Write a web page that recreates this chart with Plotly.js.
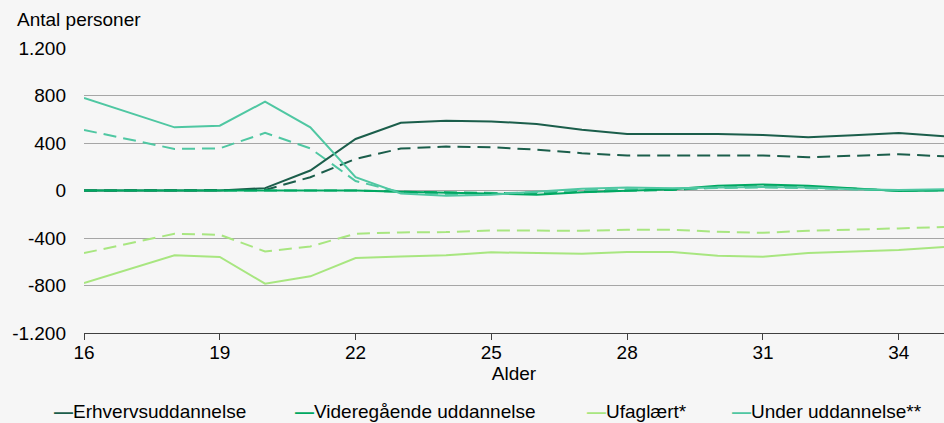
<!DOCTYPE html>
<html>
<head>
<meta charset="utf-8">
<script src="https://cdn.plot.ly/plotly-3.0.1.min.js"></script>
<style>html,body{margin:0;padding:0;background:#f6f6f6;}#chart{width:944px;height:423px;}</style>
</head>
<body>
<div id="chart"></div>
<script>
const ages = [16,17,18,19,20,21,22,23,24,25,26,27,28,29,30,31,32,33,34,35];
const seriesNames = ['Erhvervsuddannelse','Videregående uddannelse','Ufaglært*','Under uddannelse**'];
// solid lines
const erhvSolid   = [0,0,0,0,20,168,434,571,588,582,560,512,476,476,476,468,448,465,485,457];
const videreSolid = [0,0,0,0,0,0,0,-10,-20,-30,-35,-15,-5,10,40,50,40,20,-5,0];
const ufagSolid   = [-780,-663,-546,-560,-785,-723,-569,-555,-546,-521,-527,-532,-518,-518,-549,-557,-527,-515,-501,-476];
const underSolid  = [780,656,532,546,748,532,112,-25,-45,-35,-10,15,25,20,25,30,25,10,5,10];
// dashed lines
const erhvDash    = [0,0,0,0,5,112,266,353,370,364,344,314,294,294,294,295,280,290,305,288];
const videreDash  = [0,0,0,0,0,0,0,-10,-15,-20,-25,-10,0,5,25,35,30,15,0,5];
const ufagDash    = [-527,-445,-364,-373,-513,-471,-364,-353,-350,-336,-336,-339,-331,-331,-347,-356,-339,-331,-319,-308];
const underDash   = [510,430,350,355,485,355,80,-15,-30,-25,-15,5,10,10,20,25,20,10,0,0];
const colors = ['#1b5e4b','#00a862','#a8e680','#4fc7a2'];
const yTickVals = [-1200,-800,-400,0,400,800,1200];
const yTickText = ['-1.200','-800','-400','0','400','800','1.200'];
const xTickVals = [16,19,22,25,28,31,34];

const solids = [erhvSolid, videreSolid, ufagSolid, underSolid];
const dashes = [erhvDash, videreDash, ufagDash, underDash];
const traces = [];
dashes.forEach((d,i)=>traces.push({x:ages,y:d,type:'scatter',mode:'lines',name:seriesNames[i]+' (stiplet)',showlegend:false,
  line:{color:colors[i],width:2,dash:'13px,7px'}}));
solids.forEach((d,i)=>traces.push({x:ages,y:d,type:'scatter',mode:'lines',name:seriesNames[i],showlegend:false,
  line:{color:colors[i],width:2}}));

// legend drawn as text entries
const legendX = [52,293,585,730];
const annotations = [{text:'Antal personer',xref:'paper',yref:'paper',x:(15-84)/860,y:1.0,yshift:16,xanchor:'left',yanchor:'bottom',
    showarrow:false,font:{size:19}}];
seriesNames.forEach((n,i)=>annotations.push({
  text:'<b><span style="color:'+colors[i]+'">—</span></b>'+n,
  xref:'paper',yref:'paper',x:(legendX[i]-84)/860,y:0,yshift:-78,xanchor:'left',yanchor:'middle',
  showarrow:false,font:{size:19,color:'#000'}}));

const layout = {
  width:944,height:423,
  paper_bgcolor:'#f6f6f6',plot_bgcolor:'#f6f6f6',
  margin:{l:84,r:0,t:48,b:90,autoexpand:false},
  font:{family:'Liberation Sans, Arial, sans-serif',size:19,color:'#000'},
  showlegend:false,
  xaxis:{range:[16,35],tickvals:xTickVals,ticks:'outside',ticklen:6,tickcolor:'#404040',
    showline:true,linecolor:'#404040',linewidth:1,showgrid:false,zeroline:false,ticklabelstandoff:-4,
    title:{text:'Alder',font:{size:19},standoff:0},tickfont:{size:19}},
  yaxis:{range:[-1200,1200],tickvals:yTickVals,ticktext:yTickText,showgrid:true,gridcolor:'#a6a6a6',gridwidth:1,
    zeroline:false,ticks:'',tickfont:{size:19},ticklabelstandoff:17},
  annotations:annotations
};
Plotly.newPlot('chart',traces,layout,{displayModeBar:false,staticPlot:true});
</script>
</body>
</html>
